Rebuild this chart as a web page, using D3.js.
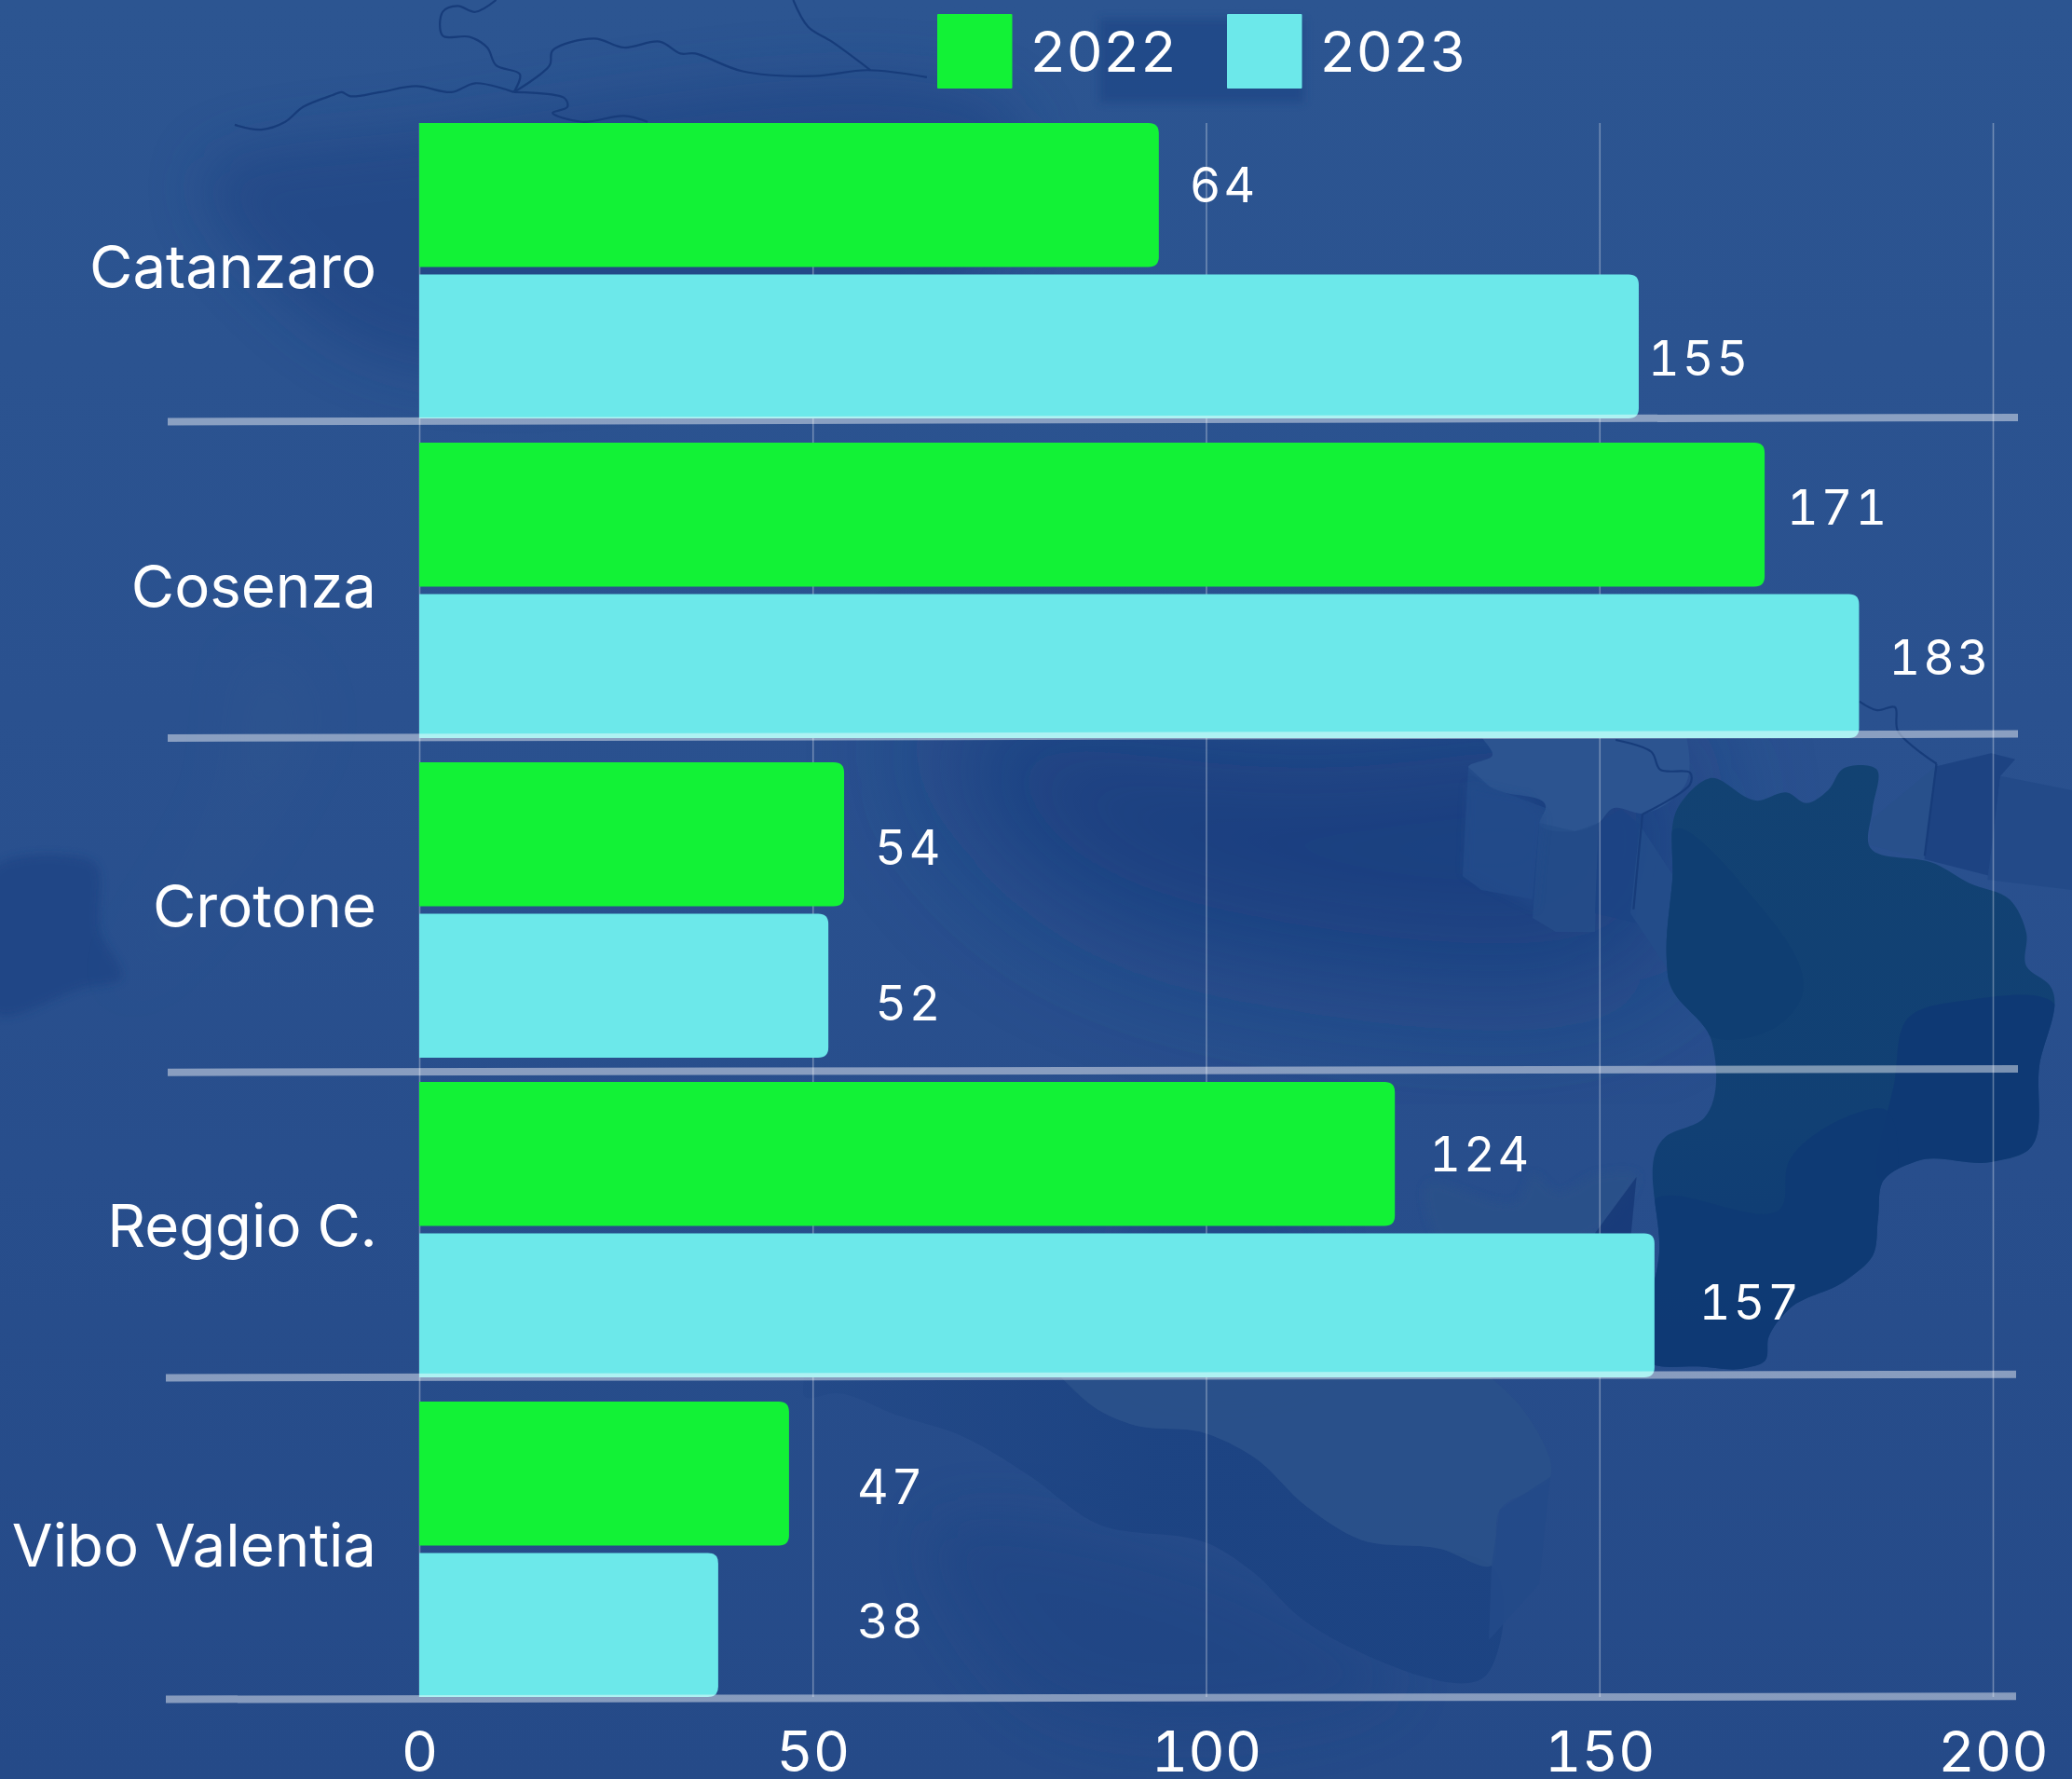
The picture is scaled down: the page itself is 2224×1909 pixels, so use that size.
<!DOCTYPE html>
<html><head><meta charset="utf-8">
<script src="https://cdn.jsdelivr.net/npm/d3@7/dist/d3.min.js"></script>
<style>html,body{margin:0;padding:0;background:#29508e}svg{display:block}text{font-family:Inter,"Noto Sans",sans-serif;fill:#fff;font-variant-numeric:tabular-nums}</style>
</head><body><svg id="c" width="2224" height="1909"></svg>
<script>
// ---- data ----
const categories = ["Catanzaro","Cosenza","Crotone","Reggio C.","Vibo Valentia"];
const seriesNames = ["2022","2023"];
const values2022 = [94,171,54,124,47];
const values2023 = [155,183,52,157,38];
// printed labels (the reference prints 64 on the bar that measures 94)
const labels2022 = ["64","171","54","124","47"];
const labels2023 = ["155","183","52","157","38"];
const xTicks = [0,50,100,150,200];
const seriesColors = ["#12f236","#6ce8ea"];
// ---- hand placed label offsets from the bar end / bar top ----
const labelDx = [[33,24,33,37,73],[10,32,50,48,149]];
const labelDy = [[85,88,110,96,110],[108,86,114,92,91]];
// ---- tilted separators: [x1,y1,x2,y2] ----
const separators = [[180,452.5,2166,448],[180,792,2166,787.6],[180,1150.7,2166,1147],[178,1478.5,2164,1474.7],[178,1823.5,2164,1820.3]];

const svg = d3.select("#c");
const defs = svg.append("defs");
const bgGrad = defs.append("linearGradient").attr("id","bg").attr("x1",0).attr("y1",0).attr("x2",0).attr("y2",1);
[[0,"#2c5591"],[.4,"#2a518f"],[1,"#254a88"]].forEach(s=>bgGrad.append("stop").attr("offset",s[0]).attr("stop-color",s[1]));
[4,30,70].forEach(s=>defs.append("filter").attr("id","b"+s).attr("x","-40%").attr("y","-40%").attr("width","180%").attr("height","180%").append("feGaussianBlur").attr("stdDeviation",s));
const calGrad = defs.append("linearGradient").attr("id","cal").attr("x1",0).attr("y1",0).attr("x2",0).attr("y2",1);
[[0,"#124272"],[.6,"#114074"],[1,"#0e3a74"]].forEach(s=>calGrad.append("stop").attr("offset",s[0]).attr("stop-color",s[1]));
const ridgeGrad = defs.append("linearGradient").attr("id","ridge").attr("gradientUnits","userSpaceOnUse").attr("x1",860).attr("y1",0).attr("x2",1240).attr("y2",0);
[[0,.25],[.5,.6],[1,.92]].forEach(s=>ridgeGrad.append("stop").attr("offset",s[0]).attr("stop-color","#1c4382").attr("stop-opacity",s[1]));

// ---- background map (decoration, not data) ----
const z4 = a=>a.map(p=>[p[0]/1.568,p[1]/1.568]);
const z5 = a=>a.map(p=>[1224+p[0]/1.568,p[1]/1.568]);
const z7 = a=>a.map(p=>[1224+p[0]/1.568,909+p[1]/1.568]);
const z3 = a=>a.map(p=>[1600+p[0]/2.513,700+p[1]/1.96]);
const bg = svg.append("g");
bg.append("rect").attr("width",2224).attr("height",1909).attr("fill","url(#bg)");
const smooth = d3.line().curve(d3.curveCatmullRomClosed.alpha(1));
const open = d3.line().curve(d3.curveCatmullRom.alpha(.5));
const poly = d3.line().curve(d3.curveLinearClosed);
const blob=(pts,fill,op=1,flt=null,gen=smooth)=>{const p=bg.append("path").attr("d",gen(pts)).attr("fill",fill).attr("opacity",op);if(flt)p.attr("filter","url(#"+flt+")");return p;};

// large soft dark masses
blob([[220,190],[450,140],[1100,180],[1050,300],[700,390],[360,360]],"#1b4080",.5,"b30");
blob([[1000,790],[1400,780],[1790,800],[1790,1000],[1400,1040],[1100,930]],"#173b7b",.75,"b70");
blob([[1590,790],[1602,810],[1576,823],[1600,845],[1659,867],[1652,883],[1691,892],[1716,883],[1730,868],[1764,873],[1810,840],[1810,790]],"#2c5490",1);
blob([[1180,20],[1400,20],[1400,110],[1180,110]],"#1f4585",.65,"b4",poly);
blob([[0,926],[60,917],[100,925],[108,1000],[130,1050],[90,1060],[0,1090]],"#1c4383",.65,"b4");
blob([[130,1060],[230,950],[300,840],[330,760],[280,700],[250,850]],"#3a5f92",.22,"b30");
blob([[1000,1650],[1300,1680],[1500,1800],[1100,1820]],"#1c4282",.45,"b30");
blob([[1230,1285],[1380,1280],[1390,1440],[1230,1440]],"#1e4585",.5,"b30");

// lower ridge: dark side face then lit top
blob([[863,1478],[1139,1478],[1179,1513],[1213,1528],[1294,1538],[1345,1563],[1403,1617],[1460,1652],[1546,1662],[1601,1680],[1595,1798],[1443,1765],[1397,1737],[1345,1687],[1305,1660],[1173,1633],[1104,1583],[1030,1540],[961,1518],[898,1495],[863,1498]],"url(#ridge)");
blob([[1139,1478],[1600,1478],[1640,1520],[1664,1585],[1610,1620],[1601,1680],[1546,1662],[1460,1652],[1403,1617],[1345,1563],[1294,1538],[1213,1528],[1179,1513]],"#2a5189",.85);
blob([[1601,1680],[1610,1620],[1664,1585],[1652,1700],[1598,1760]],"#234a88",.9,null,poly);
blob(z7([[480,570],[640,590],[660,550],[700,580],[770,550],[835,550],[790,630],[700,680],[500,660]]),"#2a5189",.8,"b4");
blob(z7([[835,555],[825,660],[765,650]]),"#173a78",.9,null,poly);

// extruded side faces
blob([[1576,823],[1600,845],[1659,867],[1652,883],[1645,965],[1590,955],[1570,940]],"#234b89",.85,null,poly);
blob([[1652,883],[1691,892],[1716,883],[1712,1000],[1670,1000],[1645,985]],"#254d8a",.8,null,poly);
blob([[1716,883],[1740,868],[1760,885],[1755,990],[1712,980]],"#1c4484",.9,null,poly);
blob([[1760,885],[1803,950],[1790,1040],[1750,980]],"#244c8a",.9,null,poly);
blob(z3([[1030,350],[1200,240],[1170,435],[1020,405]]),"#28508b",.95,null,poly);
blob(z3([[1200,240],[1350,212],[1415,225],[1375,260],[1345,470],[1170,435]]),"#1c4282",.95,null,poly);
blob(z3([[1375,260],[1568,290],[1568,500],[1340,478]]),"#234a88",.95,null,poly);
blob(z5([[550,1320],[650,1340],[680,1375],[665,1530],[545,1470]]),"#224c8b",.5,"b4",poly);

// Calabria
const calabria = z3([[510,320],[590,265],[720,312],[800,295],[850,317],[910,290],[950,245],[1040,245],[1030,330],[1020,405],[1200,445],[1290,485],[1400,520],[1445,590],[1445,660],[1508,700],[1480,870],[1445,1050],[1350,1072],[1150,1070],[1060,1110],[1045,1190],[1030,1270],[960,1320],[800,1385],[750,1440],[740,1490],[690,1505],[560,1502],[440,1498],[455,1260],[470,1020],[575,980],[595,815],[480,690],[475,650],[490,480]]);
defs.append("clipPath").attr("id","calClip").append("path").attr("d",smooth(calabria));
blob(calabria,"url(#cal)");
const facets = bg.append("g").attr("clip-path","url(#calClip)");
[[z3([[510,370],[680,490],[830,740],[800,770],[600,810],[475,680]]),"#0f3e72"],
 [z3([[1125,770],[1300,730],[1505,730],[1445,1050],[1350,1072],[1150,1070],[1060,1110],[1090,900]]),"#0e3874"],
 [z3([[445,1150],[790,1160],[800,1080],[1060,960],[1030,1270],[960,1320],[800,1385],[750,1440],[740,1490],[690,1505],[440,1498]]),"#0e3a74"]
].forEach(f=>facets.append("path").attr("d",smooth(f[0])).attr("fill",f[1]).attr("opacity",.9));

// borders
const borders = [
 z4([[395,210],[440,218],[480,205],[510,180],[560,160],[575,155],[590,162],[640,155],[700,145],[760,155],[800,140],[865,155]]),
 z4([[865,155],[950,165],[955,180],[930,190],[980,205],[1050,195],[1090,205]]),
 z4([[865,155],[875,125],[835,110],[820,80],[790,62],[745,60],[745,20],[770,10],[800,20],[835,0]]),
 z4([[865,155],[925,110],[930,85],[1000,65],[1050,80],[1110,70],[1145,90],[1170,90],[1250,120],[1370,128],[1460,118],[1560,130]]),
 z4([[1335,0],[1360,45],[1400,70],[1465,118]]),
 z5([[1210,1180],[1240,1195],[1270,1190],[1275,1230],[1340,1285]]),
 z5([[800,1245],[860,1265],[875,1295],[925,1300],[925,1320],[845,1370]]),
 z5([[1340,1285],[1320,1440]]), z5([[845,1370],[830,1530]])
];
bg.selectAll("path.border").data(borders).join("path").attr("class","border").attr("d",d=>open(d)).attr("fill","none").attr("stroke","#173c7a").attr("stroke-width",2.2);

// ---- scales ----
const x = d3.scaleLinear().domain([0,200]).range([450,2139]);
const y = d3.scaleBand().domain(categories).range([132,1821]).paddingInner(26/343).paddingOuter(0);
const y1 = d3.scaleBand().domain(seriesNames).range([0,y.bandwidth()]).paddingInner(8/162.5);

// grid
svg.append("g").selectAll("line").data(xTicks).join("line")
  .attr("x1",d=>x(d)+.5).attr("x2",d=>x(d)+.5).attr("y1",132).attr("y2",1821)
  .attr("stroke","#fff").attr("stroke-opacity",.33).attr("stroke-width",1.6);

// bars
const barPath=(x0,y0,x1,h,r)=>`M${x0},${y0}H${x1-r}Q${x1},${y0} ${x1},${y0+r}V${y0+h-r}Q${x1},${y0+h} ${x1-r},${y0+h}H${x0}Z`;
const allValues=[values2022,values2023], allLabels=[labels2022,labels2023];
seriesNames.forEach((s,si)=>{
  const g=svg.append("g");
  g.selectAll("path").data(categories).join("path")
    .attr("d",(c,i)=>barPath(x(0),y(c)+y1(s),x(allValues[si][i]),y1.bandwidth(),11))
    .attr("fill",seriesColors[si]);
});
// separators on top of the bars
svg.append("g").selectAll("line").data(separators).join("line")
  .attr("x1",d=>d[0]).attr("y1",d=>d[1]).attr("x2",d=>d[2]).attr("y2",d=>d[3])
  .attr("stroke","#fff").attr("stroke-opacity",.45).attr("stroke-width",8);
// data labels
seriesNames.forEach((s,si)=>{
  svg.append("g").selectAll("text").data(categories).join("text")
    .attr("x",(c,i)=>x(allValues[si][i])+labelDx[si][i])
    .attr("y",(c,i)=>y(c)+y1(s)+labelDy[si][i])
    .attr("font-size",52).attr("letter-spacing",3)
    .text((c,i)=>allLabels[si][i]);
});
// axes
const xAxis=svg.append("g").attr("transform","translate(0,1901)").call(d3.axisBottom(x).tickValues(xTicks).tickSize(0).tickPadding(0).tickFormat(d3.format("d")));
xAxis.select(".domain").remove();
xAxis.selectAll("text").attr("dy",0).attr("y",0).attr("font-size",61).style("font-family","Inter");
const yAxis=svg.append("g").attr("transform","translate(404,0)").call(d3.axisLeft(y).tickSize(0).tickPadding(0));
yAxis.select(".domain").remove();
yAxis.selectAll("text").attr("x",0).attr("dy",18).attr("font-size",63.5).style("font-family","Inter");
// legend
const lx=[1006,1317];
seriesNames.forEach((s,i)=>{
  svg.append("rect").attr("x",lx[i]).attr("y",15).attr("width",80.5).attr("height",80).attr("rx",1).attr("fill",seriesColors[i]);
  svg.append("text").attr("x",lx[i]+99).attr("y",77).attr("font-size",61).text(s);
});
</script></body></html>
